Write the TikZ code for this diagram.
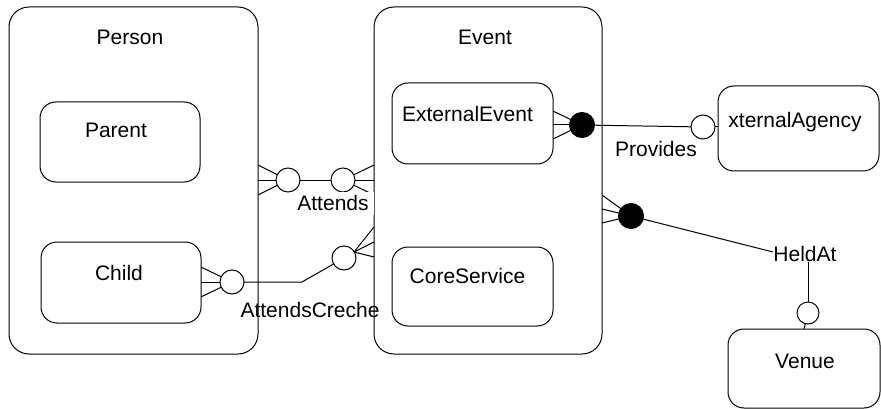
\documentclass[tikz,border=0pt]{standalone}
\usepackage{fontspec}
\setmainfont{Liberation Sans}
\usetikzlibrary{calc}
\begin{document}
\begin{tikzpicture}[x=1pt, y=-1pt, line width=1pt,
  container/.style={draw, rounded corners=20pt, inner sep=0pt, outer sep=0pt},
  entity/.style={draw, rounded corners=16pt, inner sep=0pt, outer sep=0pt},
  caption/.style={font=\fontsize{21}{24}\selectfont, inner sep=0pt, anchor=base},
  optional/.style={draw, circle, fill=white, minimum size=24pt, inner sep=0pt, outer sep=0pt},
  mandatory/.style={draw, circle, fill=black, minimum size=25pt, inner sep=0pt, outer sep=0pt},
]
\useasboundingbox (0,0) rectangle (881,409);

% containers
\node[container, minimum width=249pt, minimum height=347pt] (person) at (133.5,180.5) {};
\node[container, minimum width=228pt, minimum height=347pt] (event) at (488,180.5) {};
\node[caption] (personlbl) at (130,45) {Person};
\node[caption] (eventlbl) at (485,45) {Event};

% entities
\node[entity, minimum width=160pt, minimum height=80pt] (parent) at (120,142) {};
\node[entity, minimum width=160pt, minimum height=81pt] (child) at (121,282.5) {};
\node[entity, minimum width=161pt, minimum height=81pt] (extevent) at (472.5,123.5) {};
\node[entity, minimum width=161pt, minimum height=79pt] (core) at (472.5,286.5) {};
\node[entity, minimum width=161pt, minimum height=85pt] (agency) at (798.5,128.5) {};
\node[entity, minimum width=152pt, minimum height=79pt] (venue) at (804,368.5) {};

\node[caption] at (116,138) {Parent};
\node[caption] at (119,280) {Child};
\node[caption] at (467.5,122) {ExternalEvent};
\node[caption] at (467.5,283) {CoreService};
\node[caption] at (795,128) {xternalAgency};
\node[caption] at (805,368) {Venue};

% Attends
\node[optional] (pa) at (288,180) {};
\node[optional] (ea) at (343,180) {};
\draw (pa) -- (ea);
\foreach \d in {-15,0,15} {
  \draw ($(person.east |- pa)+(0,\d)$) -- (pa);
  \draw ($(event.west |- ea)+(0,\d)$) -- (ea);
}
\node[caption, fill=white, inner xsep=5pt, inner ysep=4pt] at (333,211) {Attends};

% AttendsCreche
\node[optional] (pc) at (232,282) {};
\node[optional] (ec) at (344,258) {};
\coordinate (crechebend) at (302,282);
\coordinate (crecheapex) at (354,252);
\draw (pc) -- (crechebend) -- (ec);
\foreach \d in {-15,0,15} {
  \draw ($(child.east |- pc)+(0,\d)$) -- (pc);
}
\foreach \yy in {227,242,257} {
  \draw (crecheapex) -- (event.west |- 0,\yy);
}
\node[caption] at (310,317) {AttendsCreche};

% Provides
\node[mandatory] (ee) at (582,125) {};
\node[optional] (ag) at (703,127) {};
\draw (ee) -- (ag);
\draw (ag) -- (agency.west |- ag);
\foreach \d in {-14,0,14} {
  \draw ($(extevent.east |- ee)+(0,\d)$) -- (ee);
}
\node[caption] at (656,157) {Provides};

% HeldAt
\node[mandatory] (eh) at (631,216) {};
\node[optional, minimum size=22pt] (vh) at (808,313) {};
\coordinate (heldin) at (773,252);
\coordinate (heldout) at (808,262);
\foreach \yy in {195,209,223} {
  \draw (event.east |- 0,\yy) -- (eh);
}
\draw (eh) -- (heldin);
\draw (heldout) -- (vh);
\draw (vh) -- (venue.north);
\node[caption] at (805,261) {HeldAt};
\end{tikzpicture}
\end{document}
